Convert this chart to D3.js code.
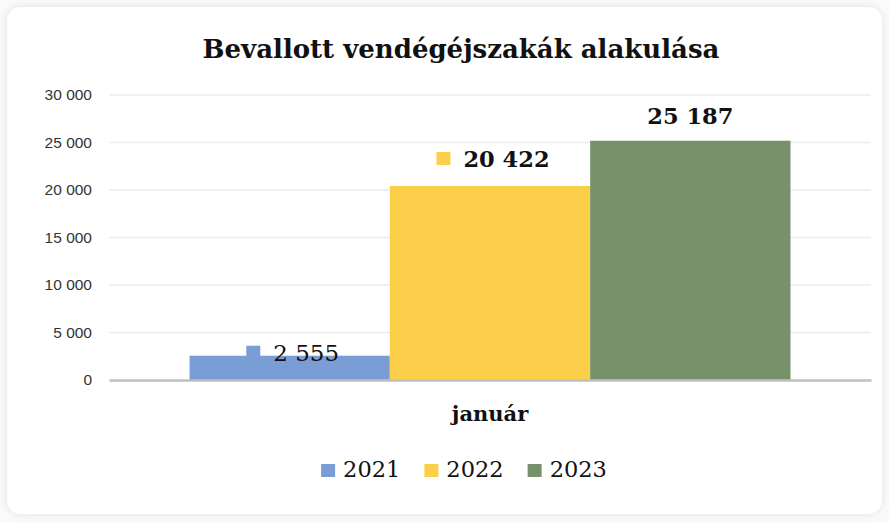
<!DOCTYPE html>
<html>
<head>
<meta charset="utf-8">
<script src="https://cdn.jsdelivr.net/npm/d3@7"></script>
<style>
    body { margin: 0; background: #ffffff; }
    svg { display: block; }
</style>
</head>
<body>
<svg id="drawing_region"></svg>
<script>
// adatok
const title = "Bevallott vendégéjszakák alakulása";
const categories = ["január"];
const years = ["2021", "2022", "2023"];
const values = [2555, 20422, 25187];
const yTicks = [0, 5000, 10000, 15000, 20000, 25000, 30000];
const colors = ["#7b9dd5", "#fccf4b", "#77926a"];

var config = {
    parent: '#drawing_region',
    width: 889,
    height: 523,
    margin: {top: 95, right: 18, bottom: 143, left: 109}
};

class BarChart {

    constructor(config) {
        this.config = config;
    }

    render() {
        let self = this;
        const cfg = self.config;
        const fmt = v => d3.format(",")(v).replace(/,/g, " ");

        self.svg = d3.select(cfg.parent)
            .attr('width', cfg.width)
            .attr('height', cfg.height);

        // kártya háttér árnyékkal
        const defs = self.svg.append('defs');
        const f = defs.append('filter').attr('id', 'shadow')
            .attr('x', '-5%').attr('y', '-5%').attr('width', '110%').attr('height', '110%');
        f.append('feDropShadow').attr('dx', 0).attr('dy', 0).attr('stdDeviation', 4)
            .attr('flood-color', '#000').attr('flood-opacity', 0.1);

        self.svg.append('rect')
            .attr('width', cfg.width).attr('height', cfg.height).attr('fill', '#fafafa');
        self.svg.append('rect')
            .attr('x', 7).attr('y', 7)
            .attr('width', cfg.width - 14).attr('height', cfg.height - 16)
            .attr('rx', 14)
            .attr('fill', '#ffffff')
            .attr('filter', 'url(#shadow)');

        const inner_width = cfg.width - cfg.margin.left - cfg.margin.right;
        const inner_height = cfg.height - cfg.margin.top - cfg.margin.bottom;

        self.chart = self.svg.append('g')
            .attr('transform', `translate(${cfg.margin.left}, ${cfg.margin.top})`);

        self.xscale = d3.scaleBand()
            .domain(categories)
            .range([0, inner_width])
            .paddingInner(0)
            .paddingOuter(0.134);

        self.xsub = d3.scaleBand()
            .domain(years)
            .range([0, self.xscale.bandwidth()])
            .padding(0);

        self.yscale = d3.scaleLinear()
            .domain([0, 30000])
            .range([inner_height, 0]);

        // rácsvonalak
        self.chart.append('g')
            .selectAll('line')
            .data(yTicks.filter(t => t > 0))
            .join('line')
            .attr('x1', 0).attr('x2', inner_width)
            .attr('y1', d => self.yscale(d)).attr('y2', d => self.yscale(d))
            .attr('stroke', '#ebebeb')
            .attr('stroke-width', 1.5);

        // y tengely
        const yaxis = d3.axisLeft(self.yscale)
            .tickValues(yTicks)
            .tickSize(0)
            .tickPadding(17)
            .tickFormat(fmt);
        const yg = self.chart.append('g').call(yaxis);
        yg.select('.domain').remove();
        yg.selectAll('text')
            .attr('font-family', '"Liberation Sans", Arial, sans-serif')
            .attr('font-size', 15.5)
            .attr('fill', '#333');

        // oszlopok
        const rows = years.map((y, i) => ({ year: y, value: values[i], color: colors[i], cat: categories[0] }));
        self.chart.append('g')
            .selectAll('rect')
            .data(rows)
            .join('rect')
            .attr('x', d => self.xscale(d.cat) + self.xsub(d.year))
            .attr('y', d => self.yscale(d.value))
            .attr('width', self.xsub.bandwidth())
            .attr('height', d => inner_height - self.yscale(d.value))
            .attr('fill', d => d.color);

        // x tengely vonal
        const xaxis = d3.axisBottom(self.xscale).tickSize(0).tickPadding(26);
        const xg = self.chart.append('g')
            .attr('transform', `translate(0, ${inner_height})`)
            .call(xaxis);
        xg.select('.domain').attr('stroke', '#bfbfbf').attr('stroke-width', 2.5);
        xg.selectAll('text')
            .attr('font-family', '"DejaVu Serif", serif')
            .attr('font-weight', 'bold')
            .attr('font-size', 21)
            .attr('fill', '#111');

        // adatcímkék (Excel-szerű, jelmagyarázat-kulccsal)
        const labelStyle = [
            { dy: 3, bold: false, key: true },
            { dy: 27, bold: true, key: true },
            { dy: 25, bold: true, key: false }
        ];
        rows.forEach((d, i) => {
            const st = labelStyle[i];
            const cx = self.xscale(d.cat) + self.xsub(d.year) + self.xsub.bandwidth() / 2;
            const cy = self.yscale(d.value) - st.dy;
            const g = self.chart.append('g');
            const t = g.append('text')
                .attr('y', cy + 8)
                .attr('font-family', '"DejaVu Serif", serif')
                .attr('font-weight', st.bold ? 'bold' : 'normal')
                .attr('font-size', st.bold ? 22.5 : 23)
                .attr('fill', '#111')
                .text(fmt(d.value));
            const tw = t.node().getComputedTextLength();
            const kw = st.key ? 14 + 13 : 0;
            const x0 = cx - (kw + tw) / 2 + (st.key ? 3 : 0);
            t.attr('x', x0 + kw);
            if (st.key) {
                g.append('rect')
                    .attr('x', x0).attr('y', cy - 7)
                    .attr('width', 14).attr('height', 13)
                    .attr('fill', d.color);
            }
        });

        // cím
        self.svg.append('text')
            .attr('x', 461)
            .attr('y', 58)
            .attr('text-anchor', 'middle')
            .attr('font-family', '"DejaVu Serif", serif')
            .attr('font-weight', 'bold')
            .attr('font-size', 26)
            .attr('fill', '#111')
            .text(title);

        // jelmagyarázat
        const legend = self.svg.append('g');
        let lx = 0;
        years.forEach((y, i) => {
            const item = legend.append('g').attr('transform', `translate(${lx},0)`);
            item.append('rect')
                .attr('x', 0).attr('y', -13)
                .attr('width', 14).attr('height', 13)
                .attr('fill', colors[i]);
            const t = item.append('text')
                .attr('x', 22).attr('y', 0)
                .attr('font-family', '"DejaVu Serif", serif')
                .attr('font-size', 22.5)
                .attr('fill', '#111')
                .text(y);
            lx += 22 + t.node().getComputedTextLength() + 24;
        });
        const lw = lx - 24;
        legend.attr('transform', `translate(${464 - lw / 2}, 477)`);
    }
}

const bar_chart = new BarChart(config);
bar_chart.render();
</script>
</body>
</html>
